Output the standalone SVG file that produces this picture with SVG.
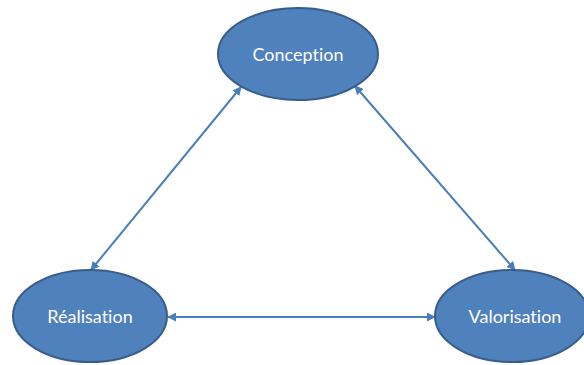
<svg xmlns="http://www.w3.org/2000/svg" width="584" height="365" viewBox="0 0 584 365">
<style>
.node ellipse{fill:#4F81BD;stroke:#385D8A;stroke-width:2}
.node text{fill:#fff;font-family:Lato,"Open Sans","Liberation Sans",sans-serif;font-size:18px;font-variant-ligatures:none;text-anchor:middle;dominant-baseline:central}
.conn line{stroke:#4A7EBB;stroke-width:2;marker-start:url(#ah);marker-end:url(#ah)}
</style>
<defs>
<marker id="ah" viewBox="0 0 10 10" refX="9" refY="5" markerWidth="4.5" markerHeight="4.5" orient="auto-start-reverse" markerUnits="strokeWidth">
<path d="M0,0 L10,5 L0,10 z" fill="#4A7EBB"/>
</marker>
</defs>
<rect width="584" height="365" fill="#fff"/>
<g class="conn">
<line x1="241" y1="87" x2="91" y2="270"/>
<line x1="355" y1="86" x2="515" y2="270"/>
<line x1="168" y1="317" x2="435" y2="317"/>
</g>
<g id="conception" class="node">
<ellipse cx="298" cy="54" rx="80" ry="46"/>
<text x="298" y="54">Conception</text>
</g>
<g id="realisation" class="node">
<ellipse cx="90" cy="316" rx="77" ry="46"/>
<text x="90" y="316">Réalisation</text>
</g>
<g id="valorisation" class="node">
<ellipse cx="512" cy="316" rx="77" ry="46"/>
<text x="515" y="316">Valorisation</text>
</g>
</svg>
